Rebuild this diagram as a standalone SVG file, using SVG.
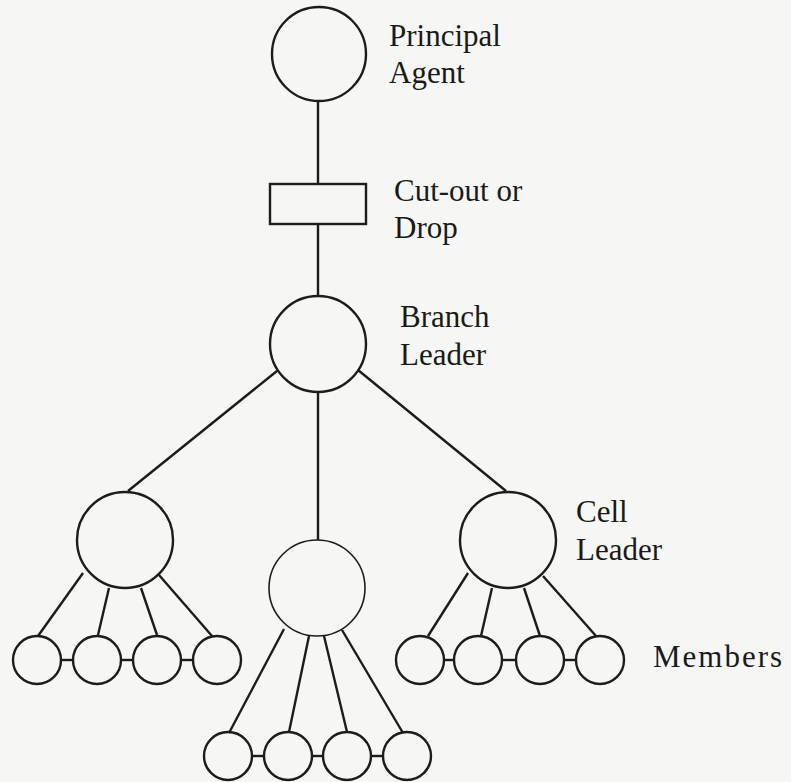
<svg xmlns="http://www.w3.org/2000/svg" width="791" height="782" viewBox="0 0 791 782">
  <style>
    .node { fill: none; stroke: #1c1c1c; stroke-width: 2.4; }
    .thin { stroke-width: 1.6; }
    .link { stroke: #1c1c1c; stroke-width: 2.4; fill: none; stroke-linecap: butt; }
    .label { font-family: "Liberation Serif", "Times New Roman", serif; font-size: 31px; fill: #1a1a1a; }
  </style>
  <rect width="791" height="782" fill="#f6f6f4"/>

  <!-- connectors -->
  <g id="connectors" class="link">
    <line x1="318" y1="101" x2="318" y2="184"/>
    <line x1="318" y1="224" x2="318" y2="296"/>
    <line x1="277" y1="371" x2="128" y2="491"/>
    <line x1="318" y1="392" x2="318" y2="540"/>
    <line x1="358" y1="370" x2="506" y2="491"/>
    <!-- left cell to members -->
    <line x1="83" y1="573" x2="38" y2="636"/>
    <line x1="109" y1="588" x2="98" y2="635"/>
    <line x1="141" y1="588" x2="157" y2="635"/>
    <line x1="159" y1="575" x2="212" y2="636"/>
    <line x1="61" y1="660" x2="73" y2="660"/>
    <line x1="121" y1="660" x2="133" y2="660"/>
    <line x1="182" y1="660" x2="193" y2="660"/>
    <!-- middle cell to members -->
    <line x1="284" y1="629" x2="229" y2="733"/>
    <line x1="309" y1="636" x2="289" y2="732"/>
    <line x1="324" y1="636" x2="347" y2="732"/>
    <line x1="342" y1="630" x2="403" y2="733"/>
    <line x1="252" y1="756" x2="264" y2="756"/>
    <line x1="312" y1="756" x2="323" y2="756"/>
    <line x1="371" y1="756" x2="383" y2="756"/>
    <!-- right cell to members -->
    <line x1="468" y1="573" x2="428" y2="636"/>
    <line x1="492" y1="588" x2="481" y2="636"/>
    <line x1="524" y1="588" x2="540" y2="636"/>
    <line x1="543" y1="576" x2="596" y2="636"/>
    <line x1="444" y1="660" x2="455" y2="660"/>
    <line x1="502" y1="660" x2="516" y2="660"/>
    <line x1="564" y1="660" x2="576" y2="660"/>
  </g>

  <g id="principal-agent">
    <circle class="node" cx="319" cy="54" r="47"/>
    <text class="label" x="389" y="46">Principal</text>
    <text class="label" x="389" y="83">Agent</text>
  </g>

  <g id="cut-out">
    <rect class="node" x="270" y="184" width="96" height="40"/>
    <text class="label" x="394" y="201">Cut-out or</text>
    <text class="label" x="394" y="238">Drop</text>
  </g>

  <g id="branch-leader">
    <circle class="node" cx="318" cy="344" r="48"/>
    <text class="label" x="400" y="327">Branch</text>
    <text class="label" x="400" y="365">Leader</text>
  </g>

  <g id="cell-left">
    <circle class="node" cx="125" cy="540" r="48"/>
  </g>
  <g id="cell-middle">
    <circle class="node thin" cx="317" cy="588" r="48"/>
  </g>
  <g id="cell-right">
    <circle class="node" cx="508" cy="540" r="48"/>
    <text class="label" x="576" y="522">Cell</text>
    <text class="label" x="576" y="560">Leader</text>
  </g>

  <g id="members-left">
    <circle class="node" cx="37" cy="660" r="24"/>
    <circle class="node" cx="97" cy="660" r="24"/>
    <circle class="node" cx="157" cy="660" r="24"/>
    <circle class="node" cx="217" cy="660" r="24"/>
  </g>
  <g id="members-middle">
    <circle class="node" cx="228" cy="756" r="24"/>
    <circle class="node" cx="288" cy="756" r="24"/>
    <circle class="node" cx="347" cy="756" r="24"/>
    <circle class="node" cx="407" cy="756" r="24"/>
  </g>
  <g id="members-right">
    <circle class="node" cx="420" cy="660" r="24"/>
    <circle class="node" cx="478" cy="660" r="24"/>
    <circle class="node" cx="540" cy="660" r="24"/>
    <circle class="node" cx="600" cy="660" r="24"/>
    <text class="label" x="653" y="667" letter-spacing="2">Members</text>
  </g>
</svg>
